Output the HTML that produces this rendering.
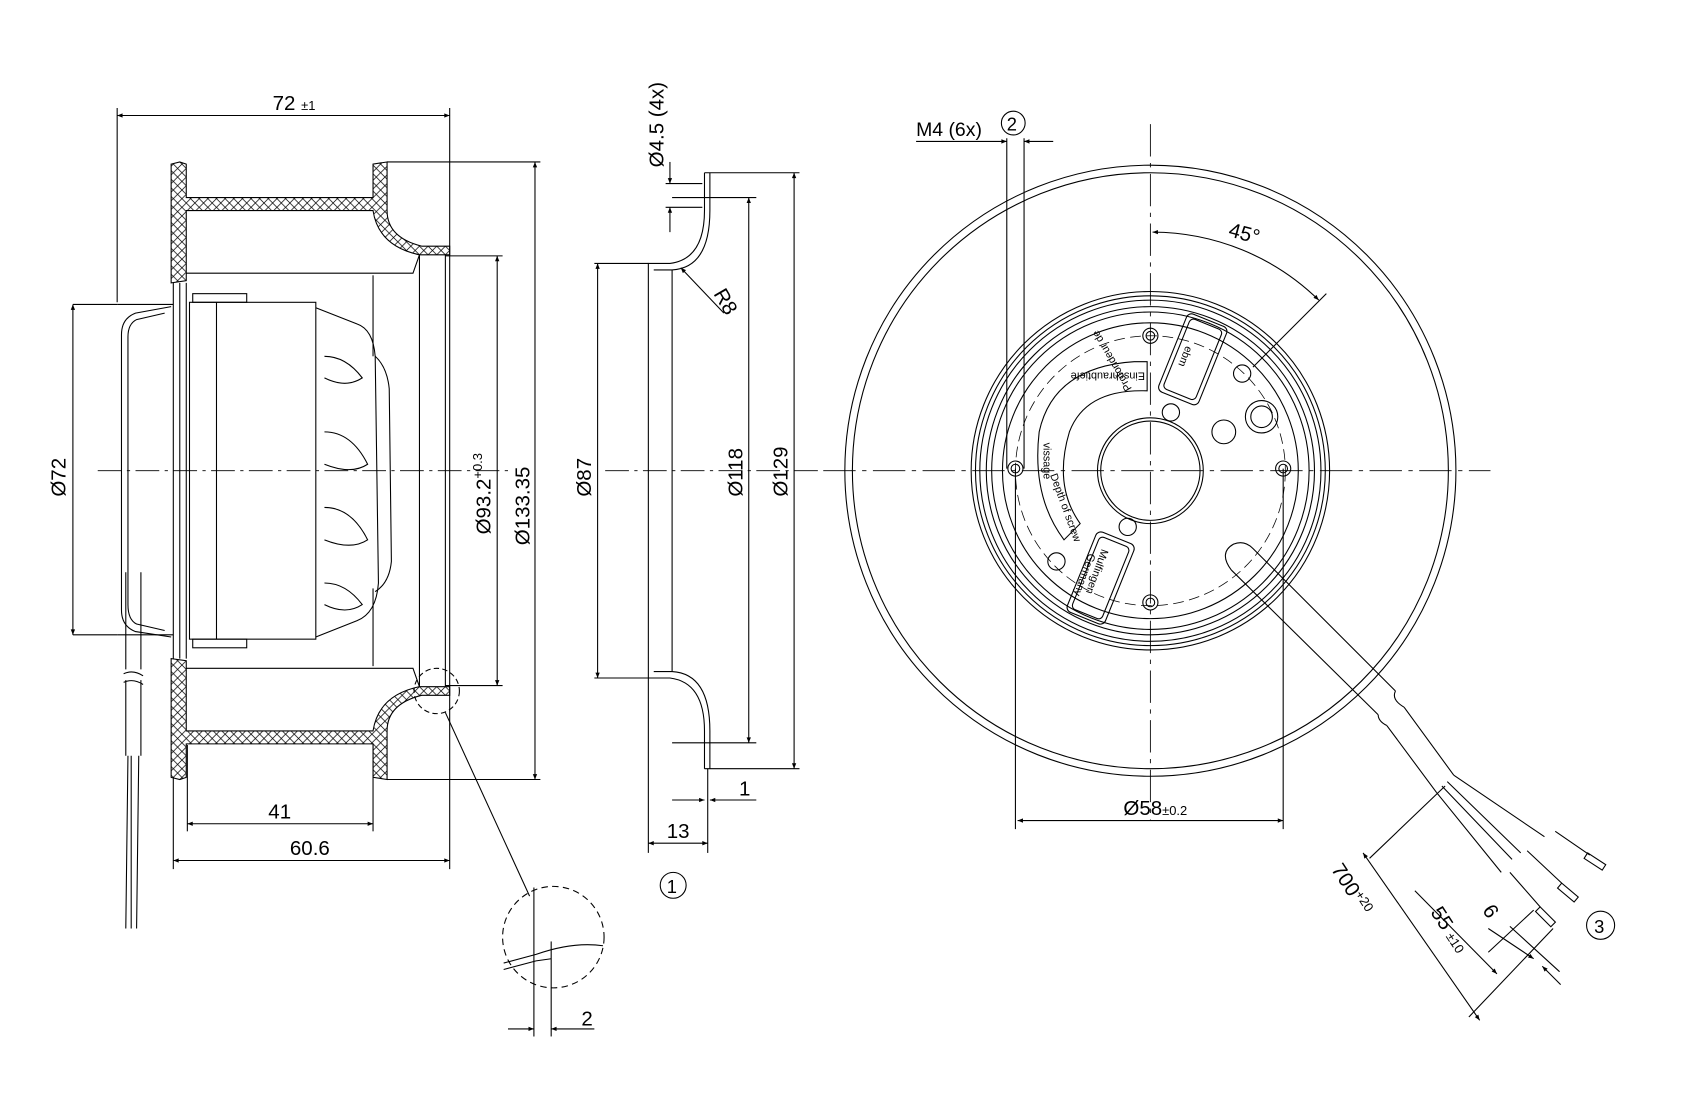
<!DOCTYPE html>
<html><head><meta charset="utf-8"><style>
html,body{margin:0;padding:0;background:#fff;}
svg{display:block;}
text{font-family:"Liberation Sans",Arial,sans-serif;fill:#000;}
</style></head><body>
<svg width="1694" height="1098" viewBox="0 0 1568 1017" xmlns="http://www.w3.org/2000/svg">
<defs>
<pattern id="h" width="8" height="8" patternUnits="userSpaceOnUse">
<path d="M0 0L8 8M8 0L0 8" stroke="#000" stroke-width="0.7"/></pattern>
<marker id="a" viewBox="0 0 10 10" refX="10" refY="5" markerWidth="11" markerHeight="5" orient="auto-start-reverse" markerUnits="userSpaceOnUse"><path d="M0 1L10 5L0 9z" fill="#000"/></marker>
</defs>
<g fill="none" stroke="#000" stroke-width="1">

<!-- ============ LEFT VIEW ============ -->
<line x1="90" y1="436" x2="470" y2="436" stroke-dasharray="22 5 3 5" stroke-width="0.8"/>
<line x1="108" y1="100" x2="108" y2="280"/>
<line x1="416" y1="100" x2="416" y2="805"/>
<line x1="108" y1="107" x2="416" y2="107" marker-start="url(#a)" marker-end="url(#a)"/>
<path d="M158 152 L166 150 L172 152 L172 183 L345 183 L345 152 L358 150 L358 195 Q358 220 390 228 L416 228 L416 236 L388 236 Q350 228 345 195 L172 195 L172 260 L158 262 Z" fill="url(#h)"/>
<path d="M158 720 L166 722 L172 720 L172 689 L345 689 L345 720 L358 722 L358 677 Q358 652 390 644 L416 644 L416 636 L388 636 Q350 644 345 677 L172 677 L172 612 L158 610 Z" fill="url(#h)"/>
<path d="M172 253 L382 253 L388 236"/>
<path d="M172 619 L382 619 L388 636"/>
<line x1="388" y1="236" x2="388" y2="636"/>
<line x1="412" y1="236" x2="412" y2="636"/>
<line x1="358" y1="150" x2="500" y2="150"/>
<line x1="358" y1="722" x2="500" y2="722"/>
<line x1="160" y1="262" x2="160" y2="610"/>
<line x1="166" y1="262" x2="166" y2="610"/>
<line x1="172" y1="262" x2="172" y2="610"/>
<rect x="175" y="280" width="117" height="312"/>
<rect x="178" y="272" width="50" height="8"/>
<rect x="178" y="592" width="50" height="8"/>
<line x1="200" y1="280" x2="200" y2="592"/>
<path d="M292 285 L330 300 Q345 305 347 330 L350 540 Q348 568 330 575 L292 590"/>
<path d="M347 330 Q358 340 360 360 L362 520 Q360 540 347 548"/>
<path d="M300 330 Q320 330 335 350 Q320 360 300 350"/>
<path d="M300 400 Q325 400 340 430 Q325 440 300 430"/>
<path d="M300 470 Q325 470 340 500 Q325 510 300 500"/>
<path d="M300 540 Q320 540 335 560 Q320 570 300 560"/>
<line x1="345" y1="255" x2="345" y2="330"/>
<line x1="345" y1="545" x2="345" y2="617"/>
<path d="M158 284 L125 290 Q112 295 112 310 L112 565 Q112 580 125 585 L158 590"/>
<path d="M152 290 L126 296 Q118 300 118 312 L118 560 Q118 574 126 578 L152 584"/>
<line x1="108" y1="282" x2="160" y2="282"/>
<line x1="108" y1="588" x2="160" y2="588"/>
<line x1="67" y1="282" x2="108" y2="282"/><line x1="67" y1="588" x2="108" y2="588"/>
<line x1="67" y1="282" x2="67" y2="588" marker-start="url(#a)" marker-end="url(#a)"/>
<path d="M116 530 L116 620 M130 530 L130 620 M116 630 L116 700 M130 630 L130 700"/>
<path d="M114 624 Q123 620 132 626 M114 632 Q123 628 132 634"/>
<path d="M118 700 L116 860 M128 700 L126 860 M121 700 L121 860"/>
<line x1="412" y1="237" x2="465" y2="237"/><line x1="412" y1="635" x2="465" y2="635"/>
<line x1="460" y1="237" x2="460" y2="635" marker-start="url(#a)" marker-end="url(#a)"/>
<line x1="495" y1="150" x2="495" y2="722" marker-start="url(#a)" marker-end="url(#a)"/>
<line x1="173" y1="690" x2="173" y2="770"/>
<line x1="345" y1="690" x2="345" y2="770"/>
<line x1="160" y1="720" x2="160" y2="805"/>
<line x1="173" y1="763" x2="345" y2="763" marker-start="url(#a)" marker-end="url(#a)"/>
<line x1="160" y1="797" x2="416" y2="797" marker-start="url(#a)" marker-end="url(#a)"/>
<circle cx="404" cy="640" r="21" stroke-dasharray="5 3"/>
<line x1="412" y1="660" x2="490" y2="830"/>
<circle cx="512" cy="868" r="47" stroke-dasharray="6 4"/>
<path d="M466 892 L496 884 Q530 872 558 876"/>
<path d="M466 898 L496 890 L510 888"/>
<line x1="494" y1="822" x2="494" y2="960"/>
<line x1="510" y1="872" x2="510" y2="960"/>
<line x1="470" y1="953" x2="494" y2="953" marker-end="url(#a)"/>
<line x1="550" y1="953" x2="510" y2="953" marker-end="url(#a)"/>

<!-- ============ MIDDLE VIEW ============ -->
<line x1="560" y1="436" x2="760" y2="436" stroke-dasharray="22 5 3 5" stroke-width="0.8"/>
<path d="M652 160 L652 195 Q652 240 620 244 L600 244 L600 628 L620 628 Q652 632 652 677 L652 712"/>
<path d="M657 160 L657 195 Q657 248 622 250 L605 250 M605 622 L622 622 Q657 624 657 677 L657 712"/>
<line x1="652" y1="160" x2="740" y2="160"/><line x1="652" y1="712" x2="740" y2="712"/>
<line x1="622" y1="183" x2="700" y2="183"/><line x1="622" y1="688" x2="700" y2="688"/>
<line x1="622" y1="250" x2="622" y2="622"/>
<line x1="550" y1="244" x2="600" y2="244"/><line x1="550" y1="628" x2="600" y2="628"/>
<line x1="553" y1="244" x2="553" y2="628" marker-start="url(#a)" marker-end="url(#a)"/>
<line x1="693" y1="183" x2="693" y2="688" marker-start="url(#a)" marker-end="url(#a)"/>
<line x1="735" y1="160" x2="735" y2="712" marker-start="url(#a)" marker-end="url(#a)"/>
<line x1="616" y1="170" x2="650" y2="170"/><line x1="616" y1="192" x2="650" y2="192"/>
<line x1="620" y1="150" x2="620" y2="170" marker-end="url(#a)"/>
<line x1="620" y1="215" x2="620" y2="192" marker-end="url(#a)"/>
<line x1="630" y1="248" x2="670" y2="290" marker-start="url(#a)"/>
<line x1="600" y1="628" x2="600" y2="790"/><line x1="655" y1="712" x2="655" y2="790"/>
<line x1="600" y1="781" x2="655" y2="781" marker-start="url(#a)" marker-end="url(#a)"/>
<line x1="622" y1="741" x2="652" y2="741" marker-end="url(#a)"/>
<line x1="700" y1="741" x2="657" y2="741" marker-end="url(#a)"/>
<circle cx="623" cy="820" r="12"/>

<!-- ============ RIGHT VIEW ============ -->
<line x1="762" y1="436" x2="1380" y2="436" stroke-dasharray="30 6 4 6" stroke-width="0.8"/>
<line x1="1065" y1="115" x2="1065" y2="760" stroke-dasharray="30 6 4 6" stroke-width="0.8"/>
<circle cx="1065" cy="436" r="283"/>
<circle cx="1065" cy="436" r="276"/>
<circle cx="1065" cy="436" r="166"/>
<circle cx="1065" cy="436" r="162"/>
<circle cx="1065" cy="436" r="158"/>
<circle cx="1065" cy="436" r="152"/>
<circle cx="1065" cy="436" r="147"/>
<circle cx="1065" cy="436" r="137"/>
<circle cx="1065" cy="436" r="125" stroke-dasharray="10 5" stroke-width="0.7"/>
<circle cx="1065" cy="436" r="49"/>
<circle cx="1065" cy="436" r="46"/>
<g>
<circle cx="940" cy="434" r="7"/><circle cx="940" cy="434" r="4"/>
<circle cx="1188" cy="434" r="7"/><circle cx="1188" cy="434" r="4"/>
<circle cx="1065" cy="311" r="7"/><circle cx="1065" cy="311" r="4"/>
<circle cx="1065" cy="558" r="7"/><circle cx="1065" cy="558" r="4"/>
<circle cx="1084" cy="382" r="8"/><circle cx="1044" cy="488" r="8"/>
<circle cx="1150" cy="346" r="8"/><circle cx="978" cy="520" r="8"/>
<circle cx="1168" cy="386" r="15"/><circle cx="1168" cy="386" r="10"/>
<circle cx="1133" cy="400" r="11"/>
</g>
<g transform="rotate(22 1100 330)"><rect x="1085" y="292" width="40" height="78" rx="5"/><rect x="1089" y="296" width="32" height="70" rx="4"/></g>
<g transform="rotate(22 1018 535)"><rect x="1000" y="495" width="38" height="80" rx="5"/><rect x="1004" y="499" width="30" height="72" rx="4"/></g>
<path d="M1062 335 L1062 362 Q1005 360 990 400 Q975 450 1000 485 L985 500 Q955 460 962 400 Q975 340 1050 335 Z"/>
<!-- cable -->
<path d="M1140 528 Q1128 512 1142 504 Q1152 500 1160 508 L1292 640"/>
<path d="M1140 528 L1276 662"/>
<path d="M1292 640 Q1288 648 1300 655 M1276 662 Q1276 668 1284 672"/>
<path d="M1300 655 L1346 718 M1284 672 L1330 734"/>
<path d="M1346 718 L1430 775 M1340 724 L1408 790 M1330 734 L1390 808 M1335 728 L1400 796"/>
<path d="M1440 770 L1472 792 M1414 788 L1446 818 M1398 808 L1426 840"/>
<rect x="1470" y="790" width="20" height="6" transform="rotate(33 1470 790)"/>
<rect x="1446" y="818" width="20" height="6" transform="rotate(40 1446 818)"/>
<rect x="1426" y="840" width="20" height="6" transform="rotate(45 1426 840)"/>
<line x1="940" y1="434" x2="940" y2="768"/><line x1="1188" y1="434" x2="1188" y2="768"/>
<line x1="942" y1="760" x2="1188" y2="760" marker-start="url(#a)" marker-end="url(#a)"/>
<line x1="932" y1="128" x2="932" y2="434"/><line x1="948" y1="128" x2="948" y2="434"/>
<line x1="848" y1="131" x2="932" y2="131" marker-end="url(#a)"/>
<line x1="975" y1="131" x2="948" y2="131" marker-end="url(#a)"/>
<circle cx="938" cy="114" r="11"/>
<path d="M1067 215 A221 221 0 0 1 1221 278" marker-start="url(#a)" marker-end="url(#a)"/>
<line x1="1160" y1="340" x2="1228" y2="272"/>
<line x1="1338" y1="728" x2="1268" y2="795"/>
<line x1="1420" y1="843" x2="1378" y2="882"/>
<line x1="1438" y1="860" x2="1360" y2="942"/>
<line x1="1398" y1="858" x2="1444" y2="900"/>
<line x1="1262" y1="790" x2="1370" y2="945" marker-start="url(#a)" marker-end="url(#a)"/>
<line x1="1310" y1="825" x2="1386" y2="902" marker-end="url(#a)"/>
<line x1="1378" y1="860" x2="1420" y2="888" marker-end="url(#a)"/>
<line x1="1445" y1="912" x2="1428" y2="895" marker-end="url(#a)"/>
<circle cx="1482" cy="857" r="13"/>
</g>

<g font-size="19">
<text x="252" y="102">72 <tspan font-size="12">±1</tspan></text>
<text x="248" y="758">41</text>
<text x="268" y="792">60.6</text>
<text x="538" y="950">2</text>
<text transform="translate(60 460) rotate(-90)">Ø72</text>
<text transform="translate(454 495) rotate(-90)">Ø93.2<tspan font-size="12" dy="-8">+0.3</tspan></text>
<text transform="translate(490 505) rotate(-90)">Ø133.35</text>
<text transform="translate(547 460) rotate(-90)">Ø87</text>
<text transform="translate(687 460) rotate(-90)">Ø118</text>
<text transform="translate(729 460) rotate(-90)">Ø129</text>
<text transform="translate(614 155) rotate(-90)">Ø4.5 (4x)</text>
<text transform="translate(660 272) rotate(60)">R8</text>
<text x="617" y="776">13</text>
<text x="684" y="737">1</text>
<text x="617" y="827" font-size="17">1</text>
<text x="848" y="126" font-size="18">M4 (6x)</text>
<text x="932" y="121" font-size="17">2</text>
<text x="1138" y="222" transform="rotate(15 1150 215)">45°</text>
<text x="1040" y="755">Ø58<tspan font-size="12">±0.2</tspan></text>
<text transform="translate(1232 805) rotate(57)">700<tspan font-size="12" dy="-6">+20</tspan></text>
<text transform="translate(1324 845) rotate(57)">55 <tspan font-size="12">±10</tspan></text>
<text transform="translate(1372 843) rotate(57)">6</text>
<text x="1476" y="864" font-size="17">3</text>
</g>
<g font-size="10">
<text transform="translate(1060 345) rotate(180)">Einschraubtiefe</text>
<text transform="translate(1048 360) rotate(-120)">Profondeur de</text>
<text transform="translate(972 440) rotate(70)">Depth of screw</text>
<text transform="translate(966 410) rotate(90)">vissage</text>
<text transform="translate(1098 320) rotate(112)">ebm</text>
<text transform="translate(1020 508) rotate(110)">Mulfingen</text>
<text transform="translate(1008 512) rotate(110)">Germany</text>
</g>
</svg>
</body></html>
